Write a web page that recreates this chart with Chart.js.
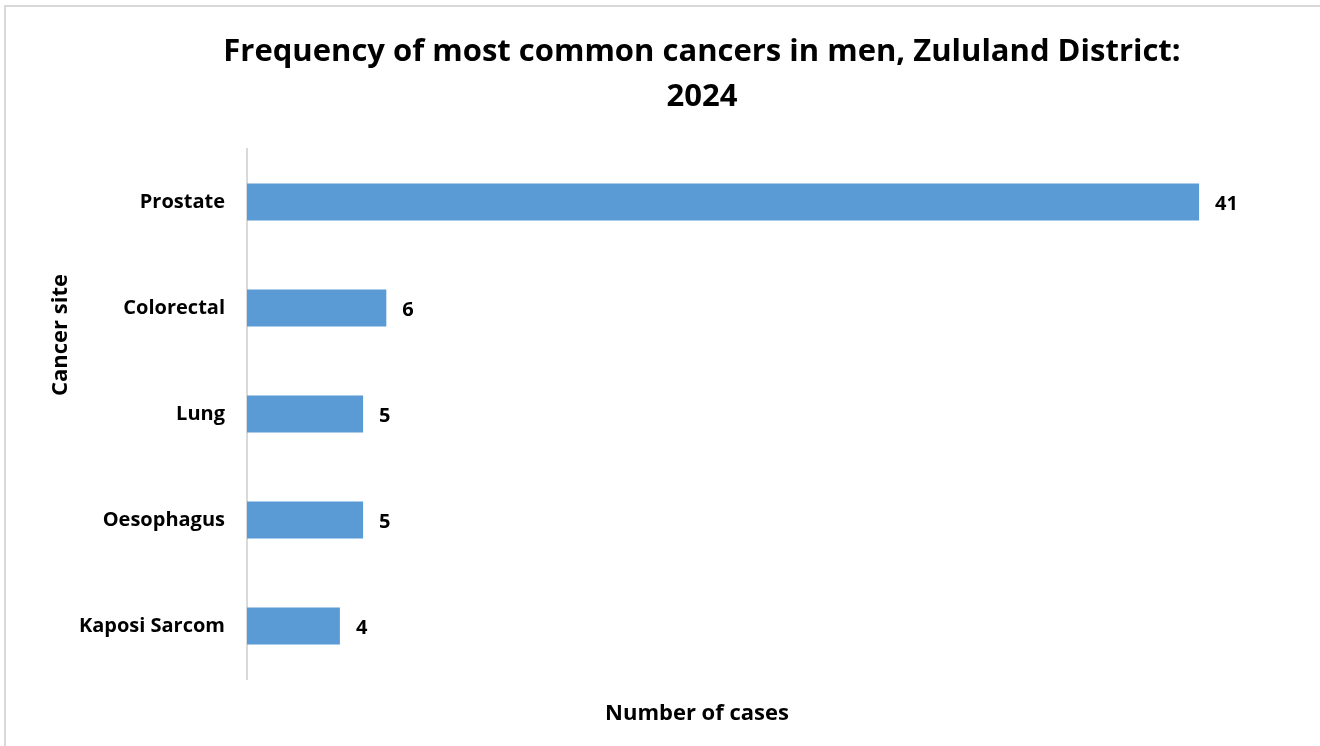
<!DOCTYPE html>
<html>
<head>
<meta charset="utf-8">
<script src="https://cdn.jsdelivr.net/npm/chart.js@4.4.0/dist/chart.umd.min.js"></script>
<style>
html,body{margin:0;padding:0;background:#fff;}
#wrap{position:relative;width:1320px;height:746px;}
</style>
</head>
<body>
<div id="wrap"><canvas id="c" width="1320" height="746"></canvas></div>
<script>
const categories = ["Prostate", "Colorectal", "Lung", "Oesophagus", "Kaposi Sarcom"];
const cases = [41, 6, 5, 5, 4];
const titleLines = ["Frequency of most common cancers in men, Zululand District:", "2024"];
const xTitle = "Number of cases";
const yTitle = "Cancer site";

const FONT = "'Open Sans', 'Noto Sans', sans-serif";

const textPlugin = {
  id: 'textPlugin',
  beforeDraw(chart) {
    const ctx = chart.ctx;
    ctx.save();
    ctx.fillStyle = '#fff';
    ctx.fillRect(0, 0, chart.width, chart.height);
    ctx.strokeStyle = '#d9d9d9';
    ctx.lineWidth = 2;
    ctx.strokeRect(5, 6, 1400, 800);
    ctx.restore();
  },
  afterDraw(chart) {
    const ctx = chart.ctx;
    ctx.save();
    ctx.fillStyle = '#000';
    ctx.textAlign = 'center';
    ctx.textBaseline = 'middle';
    ctx.font = "bold 31px " + FONT;
    ctx.fillText(titleLines[0], 702, 52);
    ctx.fillText(titleLines[1], 702, 97);
    ctx.font = "bold 22px " + FONT;
    ctx.fillText(xTitle, 697, 714);
    ctx.translate(61, 335);
    ctx.rotate(-Math.PI / 2);
    ctx.fillText(yTitle, 0, 0);
    ctx.restore();
    const meta = chart.getDatasetMeta(0);
    ctx.save();
    ctx.fillStyle = '#000';
    ctx.font = "bold 20px " + FONT;
    ctx.textAlign = 'left';
    ctx.textBaseline = 'middle';
    meta.data.forEach((bar, i) => {
      ctx.fillText(String(chart.data.datasets[0].data[i]), bar.x + 16, bar.y + 2);
    });
    ctx.restore();
  }
};

new Chart(document.getElementById('c'), {
  type: 'bar',
  data: {
    labels: categories,
    datasets: [{
      data: cases,
      backgroundColor: '#5B9BD5',
      borderWidth: 0,
      barPercentage: 0.35,
      categoryPercentage: 1.0
    }]
  },
  options: {
    indexAxis: 'y',
    responsive: false,
    animation: false,
    layout: { padding: { top: 149, bottom: 67, left: 0, right: 28 } },
    plugins: { legend: { display: false }, tooltip: { enabled: false }, title: { display: false } },
    scales: {
      x: { display: false, min: 0, max: 45 },
      y: {
        afterFit(scale) { scale.width = 247; },
        grid: { display: false, drawTicks: false },
        border: { display: true, color: '#d9d9d9', width: 2 },
        ticks: {
          color: '#000',
          padding: 22,
          font: { family: FONT, size: 20, weight: 'bold' }
        }
      }
    }
  },
  plugins: [textPlugin]
});
</script>
</body>
</html>
